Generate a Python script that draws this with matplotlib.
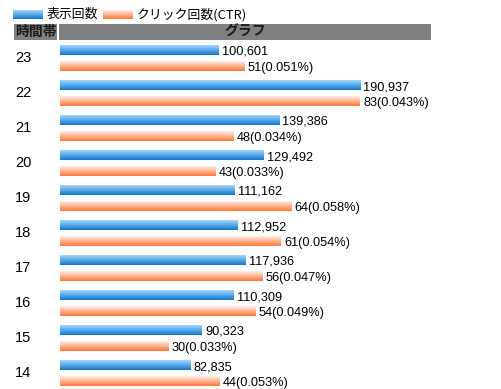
import matplotlib
matplotlib.use("Agg")
import matplotlib.pyplot as plt
import numpy as np
from matplotlib.patches import Rectangle

hours = ['23', '22', '21', '20', '19', '18', '17', '16', '15', '14']
impressions = [100601, 190937, 139386, 129492, 111162, 112952, 117936, 110309, 90323, 82835]
clicks = [51, 83, 48, 43, 64, 61, 56, 54, 30, 44]
ctr = ['0.051%', '0.043%', '0.034%', '0.033%', '0.058%', '0.054%', '0.047%', '0.049%', '0.033%', '0.053%']
legend_labels = ['表示回数', 'クリック回数(CTR)']
header_labels = ['時間帯', 'グラフ']

LAT = ['Liberation Sans', 'DejaVu Sans']
CJK = ['Noto Sans CJK JP', 'DejaVu Sans']
plt.rcParams['font.family'] = LAT

BLUE_TOP, BLUE_BOT = np.array([0.62, 0.84, 1.0]), np.array([0.08, 0.47, 0.80])
ORG_TOP, ORG_BOT = np.array([1.0, 0.93, 0.90]), np.array([1.0, 0.47, 0.22])

def grad(top, bot, n=24):
    t = np.linspace(0, 1, n).reshape(-1, 1, 1)
    return top * (1 - t) + bot * t

W, H = 501, 389
fig = plt.figure(figsize=(W / 100, H / 100), dpi=100)

def px_axes(x0, y0, x1, y1):
    return fig.add_axes([x0 / W, 1 - y1 / H, (x1 - x0) / W, (y1 - y0) / H])

# overlay for legend/header (pixel coordinates)
ov = px_axes(0, 0, W, H)
ov.set_xlim(0, W); ov.set_ylim(H, 0); ov.axis('off')

# legend
for i, (lab, top, bot) in enumerate([(legend_labels[0], BLUE_TOP, BLUE_BOT),
                                     (legend_labels[1], ORG_TOP, ORG_BOT)]):
    x0 = 13 + i * 90
    ov.imshow(grad(top, bot), extent=(x0, x0 + 30, 19, 10), aspect='auto', interpolation='bilinear')
    ov.text(x0 + 34, 14.5, lab, family=CJK, fontsize=9.3, va='center', ha='left', color='black')

# header
ov.add_patch(Rectangle((14, 24), 43, 16, color='#808080', lw=0))
ov.add_patch(Rectangle((59, 24), 372, 16, color='#808080', lw=0))
ov.text(35.5, 32, header_labels[0], family=CJK, fontsize=10, fontweight='bold', va='center', ha='center', color='#1a1a1a')
ov.text(245, 32, header_labels[1], family=CJK, fontsize=10, fontweight='bold', va='center', ha='center', color='#1a1a1a')
ov.set_xlim(0, W); ov.set_ylim(H, 0)

# bars
ax = px_axes(60, 41, 460, 389)
ax2 = ax.twiny()
ROW = 35.0
off = 8 / ROW
h = 10 / ROW
y = np.arange(len(hours))

xmax1 = max(impressions) * 400 / 300
xmax2 = max(clicks) * 400 / 300

for a, vals, yy, top, bot, labels in [
        (ax, impressions, y - off, BLUE_TOP, BLUE_BOT, [f'{v:,}' for v in impressions]),
        (ax2, clicks, y + off, ORG_TOP, ORG_BOT, [f'{c}({r})' for c, r in zip(clicks, ctr)])]:
    bars = a.barh(yy, vals, height=h, color='none', lw=0)
    for b, v, yc, lab in zip(bars, vals, yy, labels):
        im = a.imshow(grad(top, bot), extent=(0, v, yc + h / 2, yc - h / 2), aspect='auto',
                      interpolation='bilinear')
        im.set_clip_path(b)
        a.annotate(lab, (v, yc + h / 2), xytext=(2.5, 0), textcoords='offset points',
                   va='baseline', ha='left', fontsize=9.2, color='black')

ax.set_xlim(0, xmax1)
ax2.set_xlim(0, xmax2)
ax.set_ylim((389 - 58) / ROW, (41 - 58) / ROW)
for a in (ax, ax2):
    a.set_axis_off()

# row labels
for i, lab in enumerate(hours):
    ov.text(15, 58 + ROW * i, lab, fontsize=10.5, va='center', ha='left', color='black')

fig.savefig('out.png', dpi=100)
